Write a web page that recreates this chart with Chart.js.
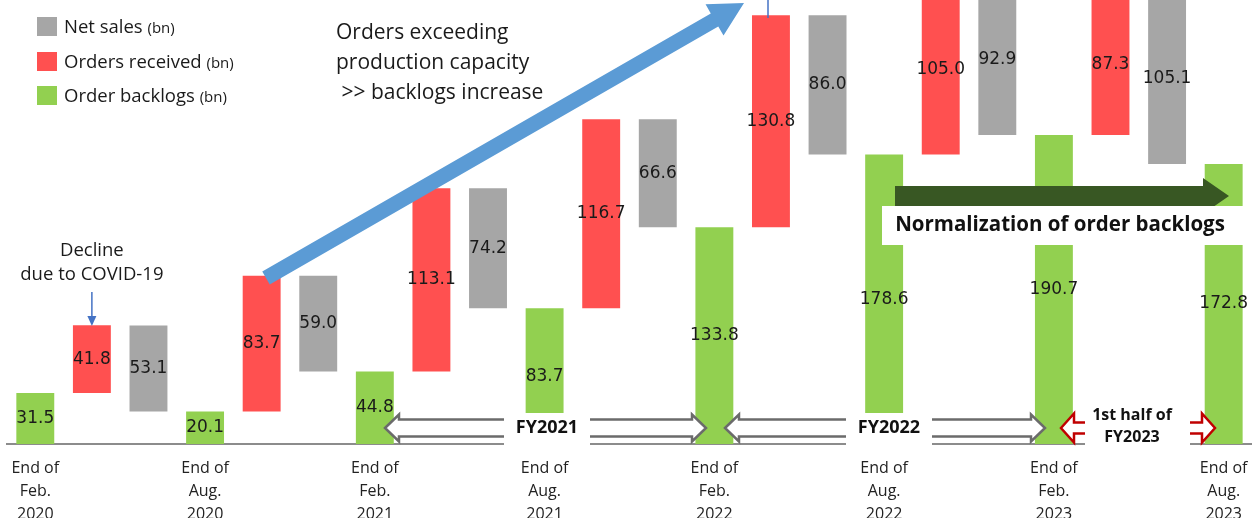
<!DOCTYPE html>
<html>
<head>
<meta charset="utf-8">
<script src="https://cdn.jsdelivr.net/npm/chart.js@4.4.0/dist/chart.umd.min.js"></script>
<style>
  html, body { margin: 0; padding: 0; background: #fff; }
  #wrap { width: 1252px; height: 518px; }
</style>
</head>
<body>
<div id="wrap"><canvas id="myChart--backlogs"></canvas></div>
<script>
// values in bn
const periods = [
    ["End of", "Feb.", "2020"],
    ["End of", "Aug.", "2020"],
    ["End of", "Feb.", "2021"],
    ["End of", "Aug.", "2021"],
    ["End of", "Feb.", "2022"],
    ["End of", "Aug.", "2022"],
    ["End of", "Feb.", "2023"],
    ["End of", "Aug.", "2023"]
];
const backlogs = [31.5, 20.1, 44.8, 83.7, 133.8, 178.6, 190.7, 172.8];
const ordersReceived = [41.8, 83.7, 113.1, 116.7, 130.8, 105.0, 87.3];
const netSales = [53.1, 59.0, 74.2, 66.6, 86.0, 92.9, 105.1];

// 3 slots per half year: backlog | orders | sales
var labels = [], backlogBars = [], orderBars = [], salesBars = [];
var nSlots = periods.length * 3 - 2;
for (let s = 0; s < nSlots; s++) {
    labels.push(""); backlogBars.push(null); orderBars.push(null); salesBars.push(null);
}
for (let i = 0; i < periods.length; i++) {
    labels[i * 3] = periods[i];
    backlogBars[i * 3] = [0, backlogs[i]];
    if (i < ordersReceived.length) {
        orderBars[i * 3 + 1] = [backlogs[i], backlogs[i] + ordersReceived[i]];
        salesBars[i * 3 + 2] = [backlogs[i + 1], backlogs[i + 1] + netSales[i]];
    }
}

const GRAY = "#A6A6A6", RED = "#FF5050", GREEN = "#92D050";

function arrowPath(c, x1, y1, x2, y2, shaft, head, headLen) {
    var ang = Math.atan2(y2 - y1, x2 - x1), len = Math.hypot(x2 - x1, y2 - y1);
    c.save();
    c.translate(x1, y1);
    c.rotate(ang);
    c.beginPath();
    c.moveTo(0, -shaft / 2);
    c.lineTo(len - headLen, -shaft / 2);
    c.lineTo(len - headLen, -head / 2);
    c.lineTo(len, 0);
    c.lineTo(len - headLen, head / 2);
    c.lineTo(len - headLen, shaft / 2);
    c.lineTo(0, shaft / 2);
    c.closePath();
    c.restore();
}

function doubleArrowPath(c, xl, xr, cy, shaft, head, headLen) {
    c.beginPath();
    c.moveTo(xl, cy);
    c.lineTo(xl + headLen, cy - head / 2);
    c.lineTo(xl + headLen, cy - shaft / 2);
    c.lineTo(xr - headLen, cy - shaft / 2);
    c.lineTo(xr - headLen, cy - head / 2);
    c.lineTo(xr, cy);
    c.lineTo(xr - headLen, cy + head / 2);
    c.lineTo(xr - headLen, cy + shaft / 2);
    c.lineTo(xl + headLen, cy + shaft / 2);
    c.lineTo(xl + headLen, cy + head / 2);
    c.closePath();
}

// value labels in the middle of each bar
const barLabels = {
    id: "barLabels",
    afterDatasetsDraw(chart) {
        var c = chart.ctx;
        c.save();
        c.font = "17px 'DejaVu Sans'";
        c.fillStyle = "#1a1a1a";
        c.textAlign = "center";
        c.textBaseline = "middle";
        chart.data.datasets.forEach(function (ds, d) {
            chart.getDatasetMeta(d).data.forEach(function (el, j) {
                var v = ds.data[j];
                if (!v) return;
                c.fillText((v[1] - v[0]).toFixed(1), el.x, (el.y + el.base) / 2);
            });
        });
        c.restore();
    }
};

// legend, arrows and callouts
const notes = {
    id: "notes",
    afterDraw(chart) {
        var c = chart.ctx;
        var x = chart.scales.x;
        c.save();

        // legend
        var items = [["Net sales", GRAY, 27], ["Orders received", RED, 62], ["Order backlogs", GREEN, 96]];
        items.forEach(function (it) {
            c.fillStyle = it[1];
            c.fillRect(37, it[2] - 10, 20, 19);
            c.fillStyle = "#1a1a1a";
            c.textBaseline = "middle";
            c.textAlign = "left";
            c.font = "18.5px 'Open Sans'";
            c.fillText(it[0], 64, it[2] + 1);
            var w = c.measureText(it[0] + " ").width;
            c.font = "15px 'Open Sans'";
            c.fillText("(bn)", 64 + w, it[2] + 2);
        });

        // big blue arrow
        arrowPath(c, 266, 278, 744, 3, 15, 36, 34);
        c.fillStyle = "#5B9BD5";
        c.fill();

        c.fillStyle = "#1a1a1a";
        c.font = "21px 'Open Sans'";
        c.textAlign = "left";
        c.fillText("Orders exceeding", 336, 33);
        c.fillText("production capacity", 336, 63);
        c.fillText(" >> backlogs increase", 336, 93);

        // covid note
        var cx = x.getPixelForValue(1);
        c.font = "18.5px 'Open Sans'";
        c.textAlign = "center";
        c.fillText("Decline", cx, 251);
        c.fillText("due to COVID-19", cx, 275);
        c.strokeStyle = "#4472C4";
        c.fillStyle = "#4472C4";
        c.lineWidth = 1.5;
        c.beginPath();
        c.moveTo(cx, 292);
        c.lineTo(cx, 318);
        c.stroke();
        c.beginPath();
        c.moveTo(cx - 4.5, 316);
        c.lineTo(cx + 4.5, 316);
        c.lineTo(cx, 326);
        c.closePath();
        c.fill();

        // thin blue line over the 130.8 bar
        c.beginPath();
        c.moveTo(768, 0);
        c.lineTo(768, 18);
        c.stroke();

        // normalization arrow + box
        arrowPath(c, 895, 196, 1229, 196, 20, 36, 26);
        c.fillStyle = "#385723";
        c.fill();
        c.fillStyle = "#fff";
        c.fillRect(882, 206, 361, 39);
        c.fillStyle = "#111";
        c.font = "bold 20.5px 'Open Sans'";
        c.textAlign = "center";
        c.fillText("Normalization of order backlogs", 1060, 225);

        // fiscal year spans
        var cy = 428;
        [[385, 706, "FY2021", 547], [725, 1045, "FY2022", 889]].forEach(function (a) {
            doubleArrowPath(c, a[0], a[1], cy, 17, 27, 14);
            c.fillStyle = "#fff";
            c.fill();
            c.strokeStyle = "#6b6b6b";
            c.lineWidth = 2.5;
            c.stroke();
            c.fillStyle = "#fff";
            c.fillRect(a[3] - 43, 413, 86, 33);
            c.fillStyle = "#111";
            c.font = "bold 18px 'Open Sans'";
            c.fillText(a[2], a[3], cy);
        });

        doubleArrowPath(c, 1061, 1215, cy, 11, 29, 13);
        c.fillStyle = "#fff";
        c.fill();
        c.strokeStyle = "#C00000";
        c.lineWidth = 2.5;
        c.stroke();
        c.fillStyle = "#fff";
        c.fillRect(1085, 398, 105, 48);
        c.fillStyle = "#111";
        c.font = "bold 16px 'Open Sans'";
        c.fillText("1st half of", 1132, 415);
        c.fillText("FY2023", 1132, 437);

        c.restore();
    }
};

var ctx = document.getElementById("myChart--backlogs");

var myChart = new Chart(ctx, {
    type: "bar",
    data: {
        labels: labels,
        datasets: [
            { label: "Net sales (bn)", data: salesBars, backgroundColor: GRAY },
            { label: "Orders received (bn)", data: orderBars, backgroundColor: RED },
            { label: "Order backlogs (bn)", data: backlogBars, backgroundColor: GREEN }
        ]
    },
    options: {
        responsive: true,
        maintainAspectRatio: false,
        animation: false,
        layout: { padding: { left: 7, right: 0, top: 0, bottom: 0 } },
        datasets: { bar: { barPercentage: 0.67, categoryPercentage: 1 } },
        plugins: {
            legend: { display: false },
            tooltip: { enabled: false }
        },
        scales: {
            x: {
                stacked: true,
                grid: { display: false },
                border: { display: true, color: "#8c8c8c", width: 2 },
                ticks: {
                    autoSkip: false,
                    maxRotation: 0,
                    padding: 4.5,
                    color: "#222",
                    font: { family: "'Open Sans'", size: 16, lineHeight: "23px" }
                },
                afterFit: function (scale) { scale.height = 74; }
            },
            y: {
                display: false,
                min: 0,
                max: 274
            }
        }
    },
    plugins: [barLabels, notes]
});
</script>
</body>
</html>
